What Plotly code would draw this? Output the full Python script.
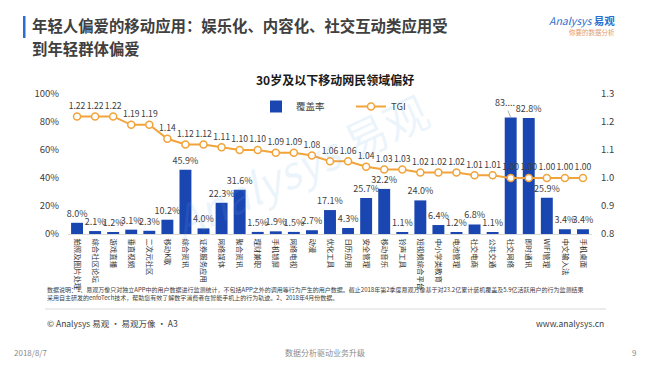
import plotly.graph_objects as go

categories = ["拍照及图片处理", "综合社区论坛", "游戏直播", "垂直视频", "二次元社区", "移动K歌", "综合资讯",
              "证券服务应用", "网络媒体", "聚合资讯", "理财兼职", "手机锁屏", "网络电视", "动漫", "优化工具",
              "日历应用", "安全管理", "移动音乐", "铃声工具", "短视频综合平台", "中小学类教育", "电池管理",
              "社交电商", "公共交通", "社交网络", "即时通讯", "WIFI管理", "中文输入法", "手机桌面"]
coverage = [8.0, 2.1, 1.2, 3.1, 2.3, 10.2, 45.9, 4.0, 22.3, 31.6, 1.5, 1.9, 1.5, 2.7, 17.1,
            4.3, 25.7, 32.2, 1.1, 24.0, 6.4, 1.2, 6.8, 1.1, 83.2, 82.8, 25.9, 3.4, 3.4]
tgi = [1.22, 1.22, 1.22, 1.19, 1.19, 1.14, 1.12, 1.12, 1.11, 1.10, 1.10, 1.09, 1.09, 1.08, 1.06,
       1.06, 1.04, 1.03, 1.03, 1.02, 1.02, 1.02, 1.01, 1.01, 1.00, 1.00, 1.00, 1.00, 1.00]
left_ticks = [0, 20, 40, 60, 80, 100]
right_ticks = [0.8, 0.9, 1.0, 1.1, 1.2, 1.3]

FONT = "Noto Sans CJK SC, Noto Sans, sans-serif"
W, H = 650, 366
L, R, T, B = 68, 592, 94, 234

def px_x(px):
    return (px - L) / (R - L)

def px_y(py):
    return (B - py) / (B - T)

truncated = 24  # label too long in the original, shown truncated with leader line
bar_text = ["" if i == truncated else f"{v:.1f}%" for i, v in enumerate(coverage)]

fig = go.Figure()
fig.add_trace(go.Bar(
    x=categories, y=coverage, name="覆盖率",
    marker=dict(color="#1a46b2", line=dict(width=0)),
    width=0.66,
    text=bar_text, textposition="outside", cliponaxis=False, constraintext="none",
    textfont=dict(size=9, color="#404040", family=FONT),
))
fig.add_trace(go.Scatter(
    x=categories, y=tgi, name="TGI", yaxis="y2", mode="lines+markers+text",
    line=dict(color="#f2a33a", width=2),
    marker=dict(size=7, color="white", line=dict(color="#f2a33a", width=1.5)),
    text=[f"{v:.2f}" for v in tgi], textposition="top center",
    textfont=dict(size=8.6, color="#404040", family=FONT), cliponaxis=False,
))

annotations = [
    dict(x=categories[truncated], y=coverage[truncated], xref="x", yref="y",
         text=f"{int(coverage[truncated])}....", showarrow=True, arrowhead=0, arrowwidth=0.8,
         arrowcolor="#999999", ax=-6, ay=-15, font=dict(size=9, color="#404040", family=FONT)),
    dict(x=px_x(30), y=px_y(25), xref="paper", yref="paper", xanchor="left", yanchor="middle",
         text="<b>年轻人偏爱的移动应用：娱乐化、内容化、社交互动类应用受</b>", showarrow=False,
         font=dict(size=15.4, color="#404040", family=FONT)),
    dict(x=px_x(30), y=px_y(48), xref="paper", yref="paper", xanchor="left", yanchor="middle",
         text="<b>到年轻群体偏爱</b>", showarrow=False,
         font=dict(size=15.4, color="#404040", family=FONT)),
    dict(x=px_x(617), y=px_y(20), xref="paper", yref="paper", xanchor="right", yanchor="middle",
         text="<i>Analysys</i> <b>易观</b>", showarrow=False,
         font=dict(size=10.5, color="#2a6fd0", family=FONT)),
    dict(x=px_x(617), y=px_y(32), xref="paper", yref="paper", xanchor="right", yanchor="middle",
         text="<span style='color:#f08a30'>你</span>要的数据分析", showarrow=False,
         font=dict(size=6.5, color="#e0a070", family=FONT)),
    dict(x=px_x(335), y=px_y(80), xref="paper", yref="paper", xanchor="center", yanchor="middle",
         text="<b>30岁及以下移动网民领域偏好</b>", showarrow=False,
         font=dict(size=12, color="#1a1a1a", family=FONT)),
    dict(x=px_x(300), y=px_y(165), xref="paper", yref="paper", xanchor="center", yanchor="middle",
         text="<i>Analysys</i> 易观", showarrow=False, textangle=-25,
         font=dict(size=44, color="rgba(110,170,230,0.12)", family=FONT)),
    dict(x=px_x(45), y=px_y(289), xref="paper", yref="paper", xanchor="left", yanchor="middle",
         text="数据说明：1、易观万像只对独立APP中的用户数据进行监测统计，不包括APP之外的调用等行为产生的用户数据。截止2018年第2季度易观万像基于对23.2亿累计装机覆盖及5.9亿活跃用户的行为监测结果",
         showarrow=False, font=dict(size=6, color="#404040", family=FONT)),
    dict(x=px_x(45), y=px_y(297), xref="paper", yref="paper", xanchor="left", yanchor="middle",
         text="采用自主研发的enfoTech技术，帮助您有效了解数字消费者在智能手机上的行为轨迹。2、2018年4月份数据。",
         showarrow=False, font=dict(size=6, color="#404040", family=FONT)),
    dict(x=px_x(45), y=px_y(323), xref="paper", yref="paper", xanchor="left", yanchor="middle",
         text="© Analysys 易观 · 易观万像 · A3", showarrow=False,
         font=dict(size=8.5, color="#404040", family=FONT)),
    dict(x=px_x(606), y=px_y(323), xref="paper", yref="paper", xanchor="right", yanchor="middle",
         text="www.analysys.cn", showarrow=False,
         font=dict(size=8.5, color="#404040", family=FONT)),
    dict(x=px_x(12), y=px_y(352), xref="paper", yref="paper", xanchor="left", yanchor="middle",
         text="2018/8/7", showarrow=False, font=dict(size=8, color="#8c8c8c", family=FONT)),
    dict(x=px_x(325), y=px_y(352), xref="paper", yref="paper", xanchor="center", yanchor="middle",
         text="数据分析驱动业务升级", showarrow=False, font=dict(size=8, color="#8c8c8c", family=FONT)),
    dict(x=px_x(638), y=px_y(352), xref="paper", yref="paper", xanchor="right", yanchor="middle",
         text="9", showarrow=False, font=dict(size=8, color="#8c8c8c", family=FONT)),
]

shapes = [
    dict(type="rect", xref="paper", yref="paper", x0=px_x(23), x1=px_x(25.5), y0=px_y(16), y1=px_y(38),
         fillcolor="#2a6fd0", line=dict(width=0)),
    dict(type="line", xref="paper", yref="paper", x0=px_x(45), x1=px_x(606), y0=px_y(309), y1=px_y(309),
         line=dict(color="#d9d9d9", width=1)),
]

fig.update_layout(
    width=W, height=H,
    margin=dict(l=L, r=W - R, t=T, b=H - B, pad=0, autoexpand=False),
    paper_bgcolor="white", plot_bgcolor="white",
    font=dict(family=FONT, color="#404040"),
    showlegend=True,
    legend=dict(orientation="h", x=px_x(256), y=px_y(92), xanchor="left", yanchor="top",
                font=dict(size=9.5, color="#404040", family=FONT), entrywidth=50,
                bgcolor="rgba(0,0,0,0)", itemwidth=30),
    xaxis=dict(tickangle=90, tickfont=dict(size=7.4, color="#333333", family=FONT),
               range=[-0.5, len(categories) - 0.5],
               showline=True, linecolor="#d9d9d9", linewidth=1, ticks="",
               showgrid=False, ticklabelstandoff=2, automargin=False),
    yaxis=dict(range=[0, 100], tickvals=left_ticks, ticktext=[f"{t}%" for t in left_ticks],
               showgrid=False, zeroline=False, showline=False, ticks="", automargin=False,
               tickfont=dict(size=9.5, color="#404040", family=FONT), ticklabelstandoff=8),
    yaxis2=dict(range=[0.8, 1.3], tickvals=right_ticks, ticktext=[f"{t:.1f}" for t in right_ticks],
                overlaying="y", side="right", showgrid=False, zeroline=False, showline=False,
                ticks="", automargin=False,
                tickfont=dict(size=9.5, color="#404040", family=FONT), ticklabelstandoff=8),
    annotations=annotations,
    shapes=shapes,
)

fig.write_html("out.html", config={"displayModeBar": False},
               post_script="document.body.style.margin='0';")
